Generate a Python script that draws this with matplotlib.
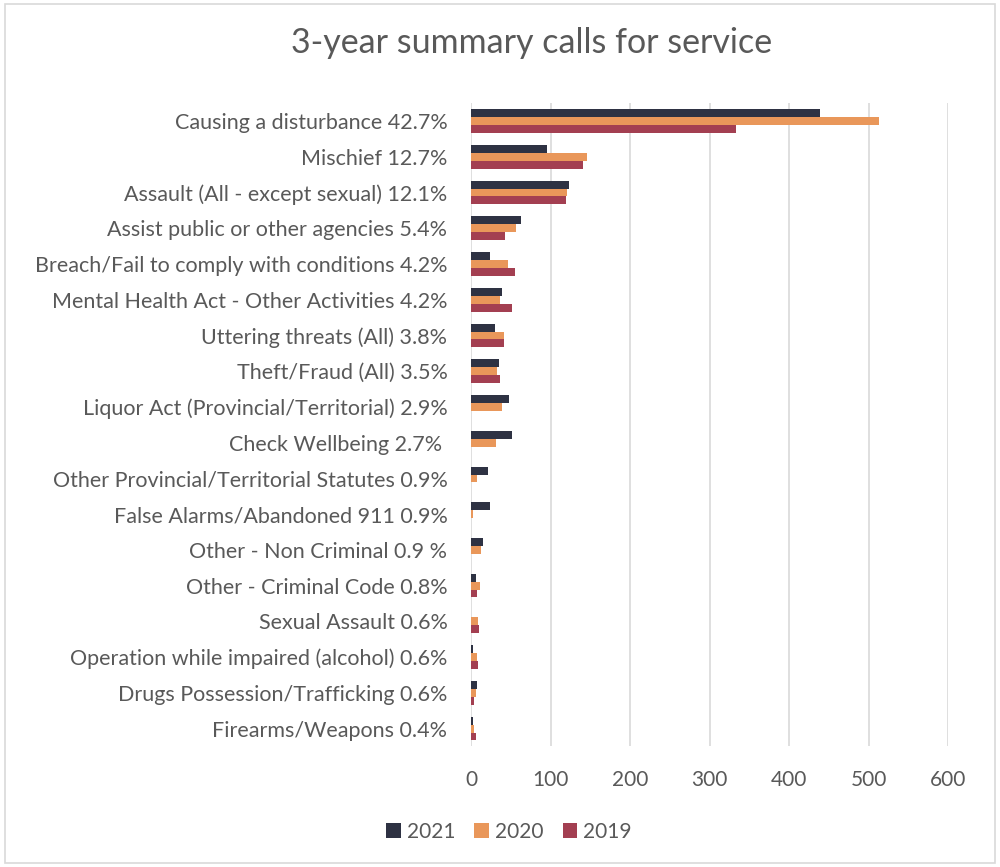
import matplotlib.pyplot as plt
import numpy as np
from matplotlib.patches import Rectangle

plt.rcParams['font.family'] = ['Lato', 'DejaVu Sans']

categories = [
    'Causing a disturbance 42.7%',
    'Mischief 12.7%',
    'Assault (All - except sexual) 12.1%',
    'Assist public or other agencies 5.4%',
    'Breach/Fail to comply with conditions 4.2%',
    'Mental Health Act - Other Activities 4.2%',
    'Uttering threats (All) 3.8%',
    'Theft/Fraud (All) 3.5%',
    'Liquor Act (Provincial/Territorial) 2.9%',
    'Check Wellbeing 2.7% ',
    'Other Provincial/Territorial Statutes 0.9%',
    'False Alarms/Abandoned 911 0.9%',
    'Other - Non Criminal 0.9 %',
    'Other - Criminal Code 0.8%',
    'Sexual Assault 0.6%',
    'Operation while impaired (alcohol) 0.6%',
    'Drugs Possession/Trafficking 0.6%',
    'Firearms/Weapons 0.4%',
]

calls_2021 = [439, 96, 123, 63, 24, 39, 30, 35, 48, 51, 21, 24, 15, 6, 0, 3, 8, 2]
calls_2020 = [513, 146, 121, 56, 47, 36, 42, 33, 39, 31, 7, 3, 12, 11, 9, 7, 6, 4]
calls_2019 = [333, 141, 120, 43, 55, 52, 41, 37, 0, 0, 0, 0, 0, 7, 10, 9, 4, 6]

years = ['2021', '2020', '2019']
colors = ['#2e3243', '#e9975a', '#a33f51']

fig = plt.figure(figsize=(10, 8.67), dpi=100)
ax = fig.add_axes([0.471, 0.139, 0.477, 0.742])

y = np.arange(len(categories))
h = 0.22
for i, (vals, yr, c) in enumerate(zip([calls_2021, calls_2020, calls_2019], years, colors)):
    ax.barh(y + (i - 1) * h, vals, height=h, color=c, label=yr, zorder=3)

ax.set_xlim(0, 600)
ax.set_ylim(len(categories) - 0.5, -0.5)
ax.set_xticks(range(0, 601, 100))
ax.set_yticks(y)
ax.set_yticklabels(categories)
ax.tick_params(axis='y', length=0, pad=17, labelsize=15.5, labelcolor='#595959')
ax.tick_params(axis='x', length=0, pad=17, labelsize=15, labelcolor='#595959')
ax.grid(axis='x', color='#d9d9d9', linewidth=1.2, zorder=0)
for s in ax.spines.values():
    s.set_visible(False)

fig.text(0.532, 0.95, '3-year summary calls for service', ha='center', va='center',
         fontsize=24.5, color='#595959')

ax.legend(loc='center', bbox_to_anchor=(0.08, -0.133), ncol=3, frameon=False,
          fontsize=15, labelcolor='#595959', handlelength=0.7, handleheight=0.7,
          handletextpad=0.3, columnspacing=0.9)

# chart border
fig.patches.append(Rectangle((0.005, 0.005), 0.99, 0.99, transform=fig.transFigure,
                             fill=False, edgecolor='#d9d9d9', linewidth=1.2))

fig.savefig('out.png', dpi=100)
